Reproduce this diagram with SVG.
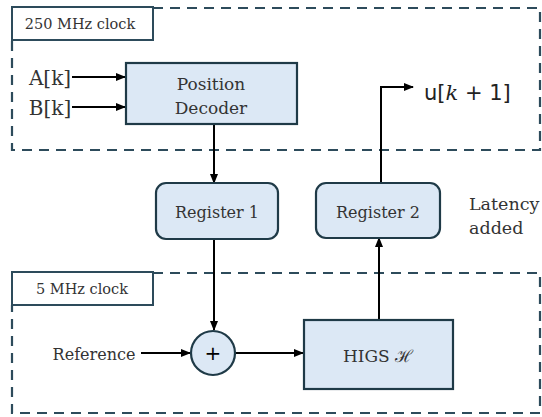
<svg xmlns="http://www.w3.org/2000/svg" width="542" height="417" viewBox="0 0 542 417">
<style>
.dash{fill:none;stroke:#2d4b5b;stroke-width:2.2;stroke-dasharray:10 7}
.lbl{fill:#fff;stroke:#2d4b5b;stroke-width:2}
.box{fill:#dce8f5;stroke:#1f3a47;stroke-width:2.2}
.t{font-family:"DejaVu Serif",serif;fill:#333;text-anchor:middle}
.w{stroke:#000;stroke-width:2;fill:none}
</style>
<defs>
<marker id="ah" markerWidth="10" markerHeight="8" refX="9" refY="4" orient="auto" markerUnits="userSpaceOnUse">
<path d="M0,0 L10,4 L0,8 Z" fill="#000"/>
</marker>
</defs>
<g id="region-250">
<path class="dash" d="M153,8 H540 V150 H12 V40"/>
<rect class="lbl" x="12" y="7" width="141" height="33"/>
<text class="t" x="80" y="29" font-size="14.5">250 MHz clock</text>
</g>
<g id="region-5">
<path class="dash" d="M153,273 H540 V413 H12 V305"/>
<rect class="lbl" x="12" y="272" width="141" height="33"/>
<text class="t" x="82" y="294" font-size="14.5">5 MHz clock</text>
</g>
<g id="connectors">
<path class="w" d="M72,77 H125" marker-end="url(#ah)"/>
<path class="w" d="M72,107 H125" marker-end="url(#ah)"/>
<path class="w" d="M214,124 V183" marker-end="url(#ah)"/>
<path class="w" d="M214,239 V330" marker-end="url(#ah)"/>
<path class="w" d="M141,353 H190" marker-end="url(#ah)"/>
<path class="w" d="M236,353 H303" marker-end="url(#ah)"/>
<path class="w" d="M379,320 V238" marker-end="url(#ah)"/>
<path class="w" d="M381,183 V87 H413" marker-end="url(#ah)"/>
</g>
<g id="inputA"><text class="t" x="50" y="85" font-size="20">A[k]</text></g>
<g id="inputB"><text class="t" x="50" y="115" font-size="20">B[k]</text></g>
<g id="decoder">
<rect class="box" x="126" y="63" width="171" height="61"/>
<text class="t" x="211" y="90" font-size="17">Position</text>
<text class="t" x="211" y="114" font-size="17">Decoder</text>
</g>
<g id="register1">
<rect class="box" x="156" y="183" width="122" height="56" rx="10"/>
<text class="t" x="217" y="218" font-size="16">Register 1</text>
</g>
<g id="register2">
<rect class="box" x="316" y="183" width="124" height="55" rx="10"/>
<text class="t" x="378" y="218" font-size="16">Register 2</text>
</g>
<g id="latency">
<text class="t" style="text-anchor:start" font-size="17.5" x="469" y="210">Latency</text>
<text class="t" style="text-anchor:start" font-size="17.5" x="469" y="234">added</text>
</g>
<g id="output">
<text font-family="DejaVu Sans,sans-serif" fill="#222" font-size="21" x="424" y="100">u[<tspan font-family="DejaVu Serif,serif" font-style="italic">k</tspan> + 1]</text>
</g>
<g id="reference"><text class="t" x="94" y="360" font-size="16">Reference</text></g>
<g id="sum">
<circle class="box" cx="213" cy="353" r="22"/>
<text x="213" y="360" font-size="20" fill="#000" text-anchor="middle" font-family="DejaVu Sans,sans-serif">+</text>
</g>
<g id="higs">
<rect class="box" x="304" y="320" width="149" height="69"/>
<text class="t" x="378" y="362" font-size="17">HIGS ℋ</text>
</g>
</svg>
